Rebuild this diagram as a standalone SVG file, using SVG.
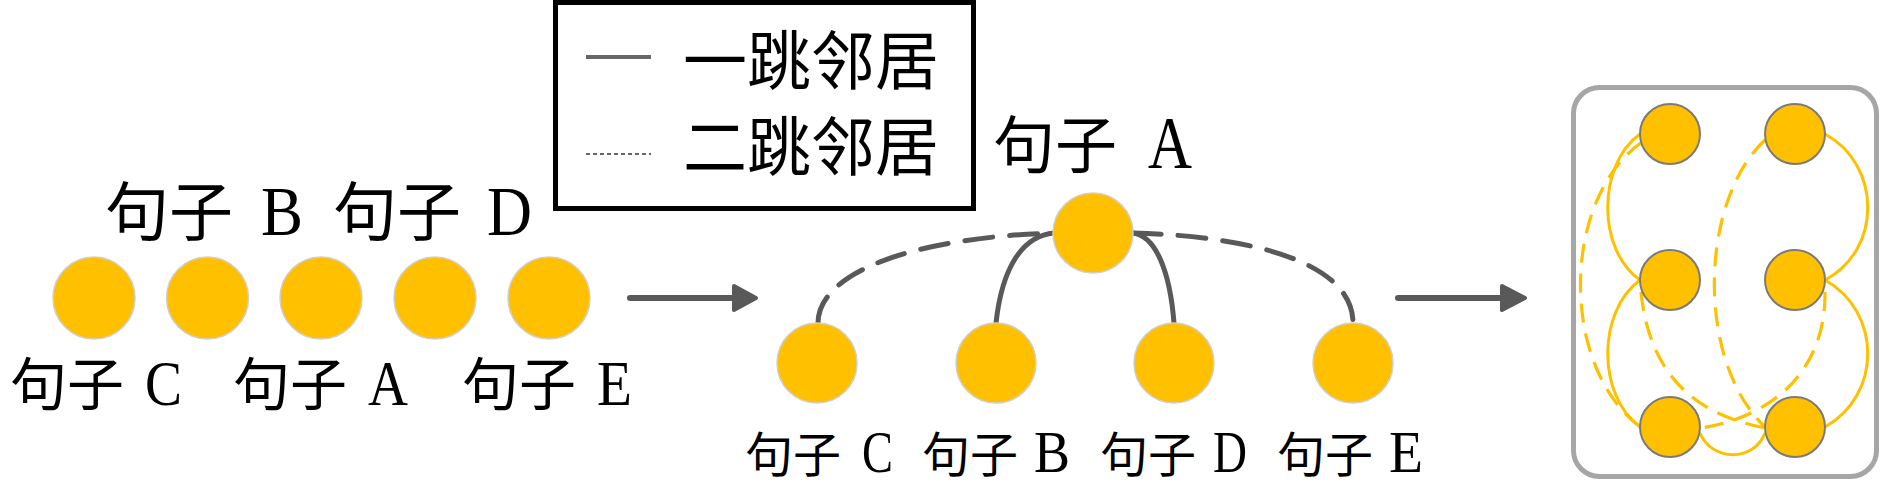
<svg xmlns="http://www.w3.org/2000/svg" width="1890" height="483" viewBox="0 0 1890 483">
<style>
text{font-family:"Liberation Serif","Noto Sans CJK SC",serif;fill:#000}
.f64{font-size:64px}
.f57{font-size:57px}
.f62{font-size:62px}
.f48{font-size:48px}
.L70{font-size:70px}
.L64{font-size:64px}
.L74{font-size:74px}
.L60{font-size:60px}
.n{fill:#FFC000;stroke:#d0cece;stroke-width:1.5}
.m{fill:#FFC000;stroke:#7a7a7a;stroke-width:2}
.g{fill:none;stroke:#595959;stroke-width:5;stroke-linecap:round}
.gd{fill:none;stroke:#595959;stroke-width:5;stroke-linecap:round;stroke-dasharray:28 17}
.y{fill:none;stroke:#FFC000;stroke-width:3}
.yd{fill:none;stroke:#FFC000;stroke-width:3.2;stroke-dasharray:19 11}
.arr{fill:none;stroke:#595959;stroke-width:6;stroke-linecap:round}
.head{fill:#595959;stroke:#595959;stroke-width:4;stroke-linejoin:round}
</style>
<rect width="1890" height="483" fill="#fff"/>

<g id="legend">
<rect x="555.5" y="2.5" width="418" height="206" fill="#fff" stroke="#000" stroke-width="5"/>
<line x1="586" y1="57" x2="651" y2="57" stroke="#666" stroke-width="4"/>
<line x1="586" y1="154" x2="651" y2="154" stroke="#666" stroke-width="2" stroke-dasharray="4 3"/>
<text class="f64" x="683" y="84">一跳邻居</text>
<text class="f64" x="683" y="170">二跳邻居</text>
</g>

<g id="left-nodes">
<g id="l1"><circle class="n" cx="94" cy="298" r="41"/></g>
<g id="l2"><circle class="n" cx="207.5" cy="298" r="41"/></g>
<g id="l3"><circle class="n" cx="321" cy="298" r="41"/></g>
<g id="l4"><circle class="n" cx="435" cy="298" r="41"/></g>
<g id="l5"><circle class="n" cx="549" cy="298" r="41"/></g>
</g>
<g id="left-labels">
<text class="f64" x="105" y="235">句子 <tspan class="L70" x="261" textLength="42" lengthAdjust="spacingAndGlyphs">B</tspan></text>
<text class="f64" x="333" y="235">句子 <tspan class="L70" x="487" textLength="45" lengthAdjust="spacingAndGlyphs">D</tspan></text>
<text class="f57" x="10" y="405">句子 <tspan class="L64" x="145" textLength="37" lengthAdjust="spacingAndGlyphs">C</tspan></text>
<text class="f57" x="233" y="405">句子 <tspan class="L64" x="368" textLength="40" lengthAdjust="spacingAndGlyphs">A</tspan></text>
<text class="f57" x="462" y="405">句子 <tspan class="L64" x="597" textLength="35" lengthAdjust="spacingAndGlyphs">E</tspan></text>
</g>

<g id="arrows">
<line class="arr" x1="630" y1="298" x2="735" y2="298"/>
<polygon class="head" points="734,286 756,298 734,310"/>
<line class="arr" x1="1398" y1="298" x2="1503" y2="298"/>
<polygon class="head" points="1502,286 1525,298 1502,310"/>
</g>

<g id="tree-connectors">
<path class="gd" d="M818,323 C818,275 905,238 1053,233"/>
<path class="g" d="M996,323 C1002,268 1022,236 1054,233"/>
<path class="g" d="M1133,233 C1156,236 1170,272 1174,323"/>
<path class="gd" d="M1133,233 C1250,236 1353,262 1353,323"/>
</g>
<g id="tree-nodes">
<g id="tA"><circle class="n" cx="1093" cy="233" r="40"/><text class="f62" x="993" y="168">句子 <tspan class="L74" x="1148" textLength="44" lengthAdjust="spacingAndGlyphs">A</tspan></text></g>
<g id="tC"><circle class="n" cx="817" cy="363" r="40"/><text class="f48" x="745" y="472">句子 <tspan class="L60" x="862" textLength="31" lengthAdjust="spacingAndGlyphs">C</tspan></text></g>
<g id="tB"><circle class="n" cx="996" cy="363" r="40"/><text class="f48" x="922" y="472">句子 <tspan class="L60" x="1034" textLength="36" lengthAdjust="spacingAndGlyphs">B</tspan></text></g>
<g id="tD"><circle class="n" cx="1174" cy="363" r="40"/><text class="f48" x="1100" y="472">句子 <tspan class="L60" x="1213" textLength="34" lengthAdjust="spacingAndGlyphs">D</tspan></text></g>
<g id="tE"><circle class="n" cx="1353" cy="363" r="40"/><text class="f48" x="1277" y="472">句子 <tspan class="L60" x="1389" textLength="34" lengthAdjust="spacingAndGlyphs">E</tspan></text></g>
</g>

<g id="graph-box">
<rect x="1573.5" y="87.5" width="303" height="389" rx="26" fill="#fff" stroke="#a6a6a6" stroke-width="5"/>
</g>
<g id="graph-connectors">
<path class="y" d="M1640,134 C1597,165 1597,250 1640,280"/>
<path class="y" d="M1825,134 C1882,165 1882,250 1825,280"/>
<path class="y" d="M1640,280 C1597,312 1597,395 1640,427"/>
<path class="y" d="M1825,280 C1882,312 1882,395 1825,427"/>
<path class="y" d="M1700,433 C1712,462 1754,462 1765,433"/>
<path class="yd" d="M1642,142 C1560,200 1560,370 1642,428"/>
<path class="yd" d="M1765,140 C1700,200 1695,360 1765,427"/>
<path class="yd" d="M1641,292 C1650,380 1700,415 1765,428"/>
<path class="yd" d="M1825,292 C1826,380 1760,420 1700,428"/>
</g>
<g id="graph-nodes">
<g id="g1"><circle class="m" cx="1670" cy="134" r="30"/></g>
<g id="g2"><circle class="m" cx="1795" cy="134" r="30"/></g>
<g id="g3"><circle class="m" cx="1670" cy="280" r="30"/></g>
<g id="g4"><circle class="m" cx="1795" cy="280" r="30"/></g>
<g id="g5"><circle class="m" cx="1670" cy="427" r="30"/></g>
<g id="g6"><circle class="m" cx="1795" cy="427" r="30"/></g>
</g>
</svg>
